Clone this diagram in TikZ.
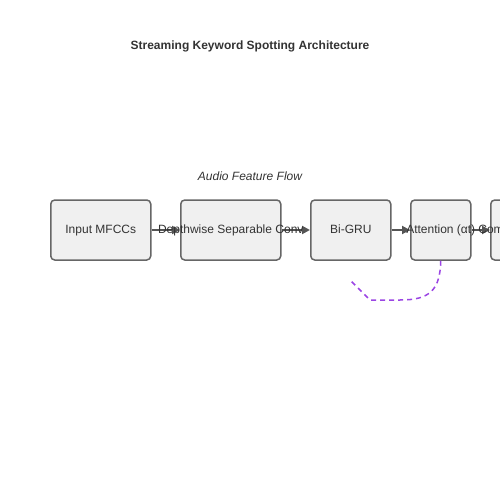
\documentclass[tikz,border=0pt]{standalone}
\usepackage{fontspec}
\setmainfont{Liberation Sans}
\usetikzlibrary{arrows.meta}
\definecolor{boxfill}{HTML}{F0F0F0}
\definecolor{boxline}{HTML}{666666}
\definecolor{flowline}{HTML}{555555}
\definecolor{attnline}{HTML}{9B45E4}
\definecolor{txt}{HTML}{333333}

\begin{document}
\begin{tikzpicture}[x=1pt, y=-1pt, font=\fontsize{12}{14}\selectfont, text=txt]
  \tikzset{layer/.style={draw=boxline, fill=boxfill, line width=1.5pt, rounded corners=4pt,
             minimum height=60pt, inner sep=0pt, anchor=west},
           lbl/.style={text height=8.6pt, text depth=2.5pt, inner sep=0pt},
           flow/.style={draw=flowline, line width=2pt, -{Triangle[length=8pt, width=8pt]}},
           attn/.style={draw=attnline, line width=1.5pt, dashed, dash pattern=on 5pt off 4pt}}
  \useasboundingbox (0,0) rectangle (500,500);
  \node[font=\fontsize{12}{14}\selectfont\bfseries] (title) at (250,46) {Streaming Keyword Spotting Architecture};
  \node[font=\fontsize{12}{14}\selectfont\itshape] (flowlabel) at (250,176) {Audio Feature Flow};
  \node[layer, minimum width=100pt] (mfcc) at (50,230) {};
  \node[layer, minimum width=100pt] (dwconv) at (180,230) {};
  \node[layer, minimum width=80pt] (bigru) at (310,230) {};
  \node[layer, minimum width=60pt] (attention) at (410,230) {};
  \node[layer, minimum width=70pt] (command) at (490,230) {};
  \draw[flow] (mfcc) -- (dwconv);
  \draw[flow] (dwconv) -- (bigru);
  \draw[flow] (bigru) -- (attention);
  \draw[flow] (attention) -- (command);
  % labels sit over the arrows
  \node[lbl] at (mfcc.center) {Input MFCCs};
  \node[lbl] at (dwconv.center) {Depthwise Separable Conv};
  \node[lbl] at (bigru.center) {Bi-GRU};
  \node[lbl] at (attention.center) {Attention (αt)};
  \node[lbl] at (command.center) {Command Output};
  \coordinate (loopend) at (350,280);
  \draw[attn] (attention.south) .. controls (440,290) and (430,300) .. (400,300) -- (370,300) -- (loopend);
\end{tikzpicture}
\end{document}
